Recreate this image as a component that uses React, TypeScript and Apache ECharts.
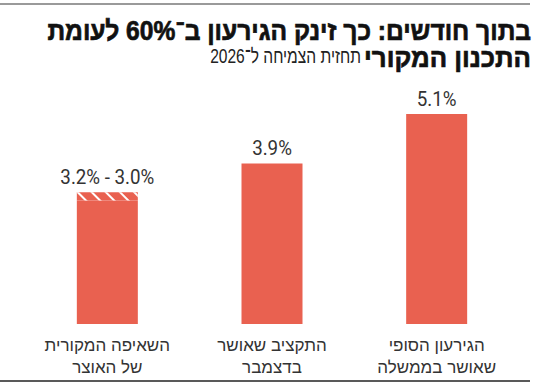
import React, { useEffect, useRef } from "react";
import * as echarts from "echarts";

const categories = [
  "הגירעון הסופי\nשאושר בממשלה",
  "התקציב שאושר\nבדצמבר",
  "השאיפה המקורית\nשל האוצר",
];
const baseValues = [5.1, 3.9, 3.0];
const rangeTopValues: (number | null)[] = [null, null, 3.2];
const titleLine1 = "בתוך חודשים: כך זינק הגירעון ב־60% לעומת";
const titleLine2Bold = "התכנון המקורי";
const titleLine2Regular = "תחזית הצמיחה ל־2026";

const RLE = "\u202B";
const PDF = "\u202C";
const BAR = "#E96150";
const HEB = '"Liberation Sans", Arial, sans-serif';
const NUM = 'Roboto, "Liberation Sans", sans-serif';

function measure(text: string, font: string) {
  const c = document.createElement("canvas").getContext("2d")!;
  c.font = font;
  return c.measureText(text).width;
}

export default function App() {
  const ref = useRef<HTMLDivElement>(null);
  useEffect(() => {
    document.body.style.margin = "0";
    const chart = echarts.init(ref.current!, null, { renderer: "svg" });
    const fmt = (v: number) => v.toFixed(1) + "%";
    const extraData = rangeTopValues.map((t, i) =>
      t == null ? "-" : +(t - baseValues[i]).toFixed(2)
    );
    chart.setOption({
      animation: false,
      grid: { left: 25, right: 31, top: 77, bottom: 60 },
      xAxis: {
        type: "category",
        inverse: true,
        data: categories,
        axisLine: { show: false },
        axisTick: { show: false },
        axisLabel: {
          interval: 0,
          margin: 10,
          fontFamily: HEB,
          fontSize: 17,
          lineHeight: 22,
          color: "#333",
        },
      },
      yAxis: { type: "value", min: 0, max: 6, show: false, splitLine: { show: false } },
      series: [
        {
          type: "bar",
          stack: "a",
          barWidth: 61,
          data: baseValues,
          itemStyle: { color: BAR },
        },
        {
          type: "bar",
          stack: "a",
          barWidth: 61,
          data: extraData,
          itemStyle: {
            color: BAR,
            decal: {
              symbol: "rect",
              color: "#fff",
              dashArrayX: [1, 0],
              dashArrayY: [1.4, 7.3],
              rotation: Math.PI / 4,
            },
          },
        },
      ],
    });

    // value labels, placed through the chart's own scales
    const numFont = `21px ${NUM}`;
    const numScale = 94 / measure("3.2% - 3.0%", numFont);
    const valueLabels = baseValues.map((v, i) => {
      const top = rangeTopValues[i];
      const text = top == null ? fmt(v) : `${fmt(top)} - ${fmt(v)}`;
      const p = chart.convertToPixel({ seriesIndex: 0 }, [i, top == null ? v : top]) as number[];
      return {
        type: "text",
        x: p[0],
        y: p[1] - 15,
        scaleX: numScale,
        style: {
          text,
          align: "center",
          verticalAlign: "middle",
          fontFamily: NUM,
          fontSize: 21,
          fill: "#333",
        },
      };
    });

    const f1 = `bold 27px ${HEB}`;
    const s1 = 484 / measure(titleLine1, f1);
    const s2b = 167 / measure(titleLine2Bold, f1);
    const f2 = `20px ${HEB}`;
    const s2r = 151 / measure(titleLine2Regular, f2);

    chart.setOption({
      graphic: [
        {
          type: "line",
          shape: { x1: 0, y1: 4, x2: 530, y2: 4 },
          style: { stroke: "#9a9a9a", lineWidth: 2 },
        },
        {
          type: "line",
          shape: { x1: 0, y1: 381, x2: 530, y2: 381 },
          style: { stroke: "#222", lineWidth: 1.5 },
        },
        {
          type: "text",
          x: 531,
          y: 31,
          scaleX: s1,
          style: {
            text: RLE + titleLine1 + PDF,
            align: "right",
            verticalAlign: "middle",
            fontFamily: HEB,
            fontWeight: "bold",
            fontSize: 27,
            fill: "#111",
            stroke: "#111",
            lineWidth: 0.7,
          },
        },
        {
          type: "text",
          x: 531,
          y: 58,
          scaleX: s2b,
          style: {
            text: RLE + titleLine2Bold + PDF,
            align: "right",
            verticalAlign: "middle",
            fontFamily: HEB,
            fontWeight: "bold",
            fontSize: 27,
            fill: "#111",
            stroke: "#111",
            lineWidth: 0.7,
          },
        },
        {
          type: "text",
          x: 361,
          y: 56,
          scaleX: s2r,
          style: {
            text: RLE + titleLine2Regular + PDF,
            align: "right",
            verticalAlign: "middle",
            fontFamily: HEB,
            fontSize: 20,
            fill: "#222",
          },
        },
        ...valueLabels,
      ],
    });
    return () => chart.dispose();
  }, []);
  return <div ref={ref} style={{ width: 550, height: 384 }} />;
}
